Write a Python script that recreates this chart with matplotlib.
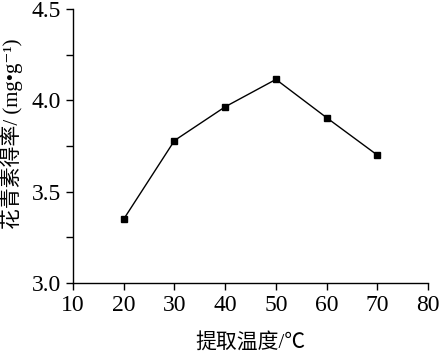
import matplotlib
matplotlib.use("Agg")
import matplotlib.pyplot as plt
from matplotlib.ticker import MultipleLocator

# extraction temperature (C) vs anthocyanin yield (mg/g)
temperature = [20, 30, 40, 50, 60, 70]
yield_rate = [3.35, 3.78, 3.965, 4.115, 3.905, 3.70]
x_ticks = [10, 20, 30, 40, 50, 60, 70, 80]
y_ticks = [3.0, 3.5, 4.0, 4.5]

plt.rcParams['font.family'] = ['Liberation Serif', 'Noto Sans CJK SC', 'DejaVu Serif']

fig = plt.figure(figsize=(4.4, 3.51), dpi=100)
ax = fig.add_axes([0.166, 0.194, 0.807, 0.78])

ax.plot(temperature, yield_rate, color='black', lw=1.0,
        marker='s', markersize=5)

ax.set_xlim(10, 80)
ax.set_ylim(3.0, 4.5)
ax.set_xticks(x_ticks)
ax.set_yticks(y_ticks)
ax.set_yticklabels([f"{v:.1f}" for v in y_ticks])
ax.yaxis.set_minor_locator(MultipleLocator(0.25))

for s in ['top', 'right']:
    ax.spines[s].set_visible(False)
for s in ['left', 'bottom']:
    ax.spines[s].set_linewidth(1.0)

ax.tick_params(which='both', direction='out', width=1.0, labelsize=17, color='black')
ax.tick_params(which='major', length=5)
ax.tick_params(which='minor', length=5)

ax.set_xlabel('提取温度/℃', fontsize=15, labelpad=12)
ax.set_ylabel('花青素得率/ (mg•g⁻¹)', fontsize=15)
ax.yaxis.set_label_coords(-0.14, 0.545)

fig.savefig('out.png', dpi=100)
